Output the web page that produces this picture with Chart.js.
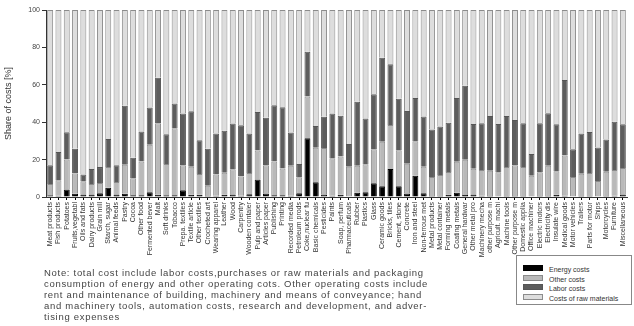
<!DOCTYPE html>
<html>
<head>
<meta charset="utf-8">
<script src="https://cdn.jsdelivr.net/npm/chart.js@4"></script>
<style>
  body { margin: 0; background: #fff; font-family: "Liberation Sans", Arial, sans-serif; }
  #wrap { position: relative; width: 634px; height: 326px; overflow: hidden; }
  #chartBox { position: absolute; left: 0; top: 0; width: 634px; height: 270px; }
  #note { position: absolute; left: 44px; top: 268px; font-size: 9.5px; line-height: 10.9px; color: #444; letter-spacing: 0.7px; white-space: nowrap; }
  #legend { position: absolute; left: 516px; top: 255px; width: 114px; height: 48px; border: 1px solid #888; background: #fff; opacity: 0.995; }
  #legend div { position: absolute; left: 6px; font-size: 7px; color: #333; height: 9px; line-height: 9px; white-space: nowrap; }
  #legend span { display: inline-block; width: 18px; height: 4px; border: 1px solid #777; margin-right: 6px; vertical-align: 1px; }
</style>
</head>
<body>
<div id="wrap">
  <div id="chartBox"><canvas id="costChart"></canvas></div>
  <div id="note">Note: total cost include labor costs,purchases or raw materials and packaging<br>consumption of energy and other operating cots. Other operating costs include<br>rent and maintenance of building, machinery and means of conveyance; hand<br>and machinery tools, automation costs, research and development, and adver-<br>tising expenses</div>
  <div id="legend"></div>
</div>
<script>
// Branches (labels cut like in the source figure)
const branches = [
  'Meat products', 'Fish products', 'Potatoes', 'Fruits,vegetabl', 'Oils and fats', 'Dairy products',
  'Grain mill', 'Starch, sugar', 'Animal feeds', 'Pastry', 'Cocoa', 'Other food', 'Fermented bever',
  'Malt', 'Soft drinks', 'Tobacco', 'Prepa. textiles', 'Textile article', 'Other textiles',
  'Crocheted art', 'Wearing apparel', 'Leather', 'Wood', 'Carpentry', 'Wooden contaier',
  'Pulp and paper', 'Articles paper', 'Publishing', 'Printing', 'Recorded media', 'Petroleum prods',
  'Coke,nuclear fu', 'Basic chemicals', 'Pesticides', 'Paints', 'Soap, perfum', 'Pharmaceuticals',
  'Rubber', 'Plastics', 'Glass', 'Ceramic goods', 'Bricks, tiles', 'Cement, stone', 'Concrete',
  'Iron and steel', 'Non-ferrous met', 'Metal products', 'Metal container', 'Forming metals',
  'Coating metals', 'General hardwar', 'Other metal pro', 'Machinery mecha', 'other purpose m',
  'Agricult. machi', 'Machine tools', 'Other purpose m', 'Domestic applia', 'Office machiner',
  'Electric motors', 'Electricity dis', 'Insulate wire', 'Medical goods', 'Motor vehicles',
  'Trailers', 'Parts for motor', 'Ships', 'Motorcycles', 'Furniture', 'Miscellaneous'
];

// shares in % (stacked bottom to top)
const energyCosts = [
  1, 0.7, 4, 1.8, 1.4, 1.4, 2, 5, 1.4, 1.8, 0.9, 0.9, 2.5, 1.2, 1, 0.9, 3.6, 1.2, 1.2, 0.5,
  0.7, 1.2, 1.4, 0.7, 1.5, 9.4, 1.9, 0.9, 0.9, 0.7, 2, 31.4, 7.9, 1.4, 0.7, 1.2, 0.4, 2.3, 2.5, 7.3,
  5.7, 15, 5.8, 1.9, 11.4, 2, 0.5, 0.5, 1.2, 2.3, 1.1, 1.3, 0.7, 0.5, 0.4, 0.5, 0.5, 0.5, 0.4, 0.5,
  0.5, 1.2, 0.7, 0.4, 0.5, 0.5, 0.4, 0.5, 0.7, 1.4
];
const otherCosts = [
  6, 8.3, 16, 10.8, 7, 5.6, 5.5, 11, 6.6, 15.5, 9.1, 18.1, 25.5, 38.2, 16.6, 35.8, 13.4, 15, 11.1, 5.5,
  11.3, 11.8, 13.4, 10.3, 11.4, 15.4, 15.1, 18.1, 14.4, 16, 8.6, 22.3, 18.5, 24.8, 20, 20.4, 15.8, 14.4, 15, 18.2,
  23.9, 23.5, 19.2, 15.9, 18.4, 14.2, 10.2, 11.3, 12.2, 16.5, 18.8, 13.8, 13.8, 13.5, 12.9, 15.6, 16.5, 15.6, 11, 12.8,
  16.2, 12.6, 21.5, 10.3, 12, 12.3, 8.2, 13, 13.7, 14.1
];
const laborCosts = [
  10, 15, 14.6, 13.2, 3.6, 8, 8.5, 15, 9, 31.5, 11, 16, 19.8, 24.4, 15.9, 13.3, 27.6, 29.6, 18, 19.8,
  22, 22.4, 24.5, 27.4, 21.1, 20.7, 25.4, 30, 32.7, 17.8, 7, 24, 11.6, 16.7, 23.9, 21.8, 12.1, 34.2, 24.5, 29.5,
  44.9, 32.5, 27.6, 28.2, 23.2, 26.8, 25.4, 25.9, 26.3, 34.2, 39.6, 23.9, 24.9, 29.3, 25.7, 27.2, 24.2, 23.3, 11.6, 26.1,
  28.1, 25.1, 40.4, 14.8, 21.5, 21.9, 17.9, 17.3, 25.9, 23.4
];
const rawMaterials = [
  83, 76, 65.4, 74.2, 88, 85, 84, 69, 83, 51.2, 79, 65, 52.2, 36.2, 66.5, 50, 55.4, 54.2, 69.7, 74.2,
  66, 64.6, 60.7, 61.6, 66, 54.5, 57.6, 51, 52, 65.5, 82.4, 22.3, 62, 57.1, 55.4, 56.6, 71.7, 49.1, 58, 45,
  25.5, 29, 47.4, 54, 47, 57, 63.9, 62.3, 60.3, 47, 40.5, 61, 60.6, 56.7, 61, 56.7, 58.8, 60.6, 77, 60.6,
  55.2, 61.1, 37.4, 74.5, 66, 65.3, 73.5, 69.2, 59.7, 61.1
];

const yTicks = [0, 20, 40, 60, 80, 100];

const series = [
  { label: 'Energy costs', data: energyCosts, fill: '#000000', line: '#000000' },
  { label: 'Other costs', data: otherCosts, fill: '#b9b9b9', line: '#8a8a8a' },
  { label: 'Labor costs', data: laborCosts, fill: '#5d5d5d', line: '#555555' },
  { label: 'Costs of raw materials', data: rawMaterials, fill: '#dddddd', line: '#8c8c8c' }
];

const ctx = document.getElementById('costChart').getContext('2d');
const costChart = new Chart(ctx, {
  type: 'bar',
  data: {
    labels: branches,
    datasets: series.map(s => ({
      label: s.label,
      data: s.data,
      backgroundColor: s.fill,
      borderColor: s.line,
      borderWidth: 1,
      barPercentage: 0.72,
      categoryPercentage: 1
    }))
  },
  options: {
    responsive: true,
    maintainAspectRatio: false,
    animation: false,
    layout: { padding: { top: 10, right: 7, left: 0, bottom: 0 } },
    plugins: { legend: { display: false }, tooltip: { enabled: false } },
    scales: {
      x: {
        stacked: true,
        grid: { drawOnChartArea: false, offset: false, tickLength: 3, color: '#000' },
        border: { color: '#333' },
        ticks: {
          autoSkip: false, maxRotation: 90, minRotation: 90, padding: 2,
          color: '#333', font: { family: 'Liberation Sans', size: 7 }
        },
        afterFit: scale => { scale.height = 73; }
      },
      y: {
        stacked: true,
        min: 0, max: 100,
        afterBuildTicks: scale => { scale.ticks = yTicks.map(v => ({ value: v })); },
        grid: { drawOnChartArea: false, tickLength: 4, color: '#333' },
        border: { color: '#333' },
        ticks: { color: '#444', padding: 2, font: { family: 'Liberation Sans', size: 7 } },
        title: {
          display: true, text: 'Share of costs [%]', color: '#333',
          font: { family: 'Liberation Sans', size: 9 }, padding: 3
        },
        afterFit: scale => { scale.width = 46; }
      }
    }
  }
});

// legend box (top entry = Energy costs)
const legendBox = document.getElementById('legend');
series.forEach((s, i) => {
  const row = document.createElement('div');
  row.style.top = (9 + i * 9.5) + 'px';
  const swatch = document.createElement('span');
  swatch.style.background = s.fill;
  swatch.style.borderColor = s.line;
  row.appendChild(swatch);
  row.appendChild(document.createTextNode(s.label));
  legendBox.appendChild(row);
});
</script>
</body>
</html>
